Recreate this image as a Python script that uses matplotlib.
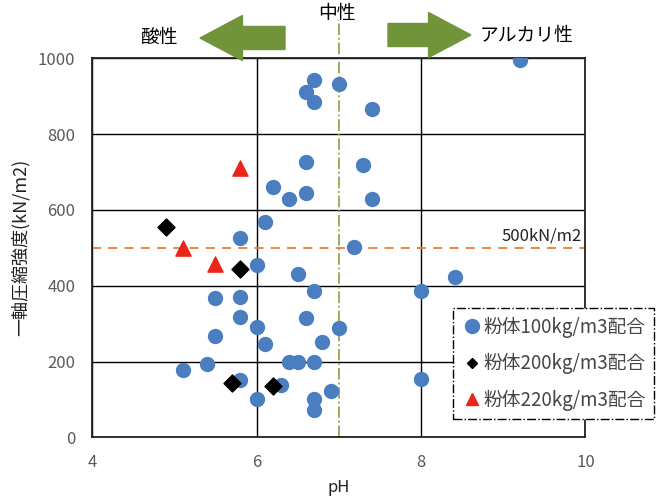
import matplotlib
matplotlib.use("Agg")
from matplotlib import pyplot as plt
from matplotlib.patches import FancyArrow
from matplotlib.lines import Line2D

plt.rcParams['font.family'] = ['Noto Sans CJK JP', 'DejaVu Sans']

# powder 100 kg/m3 mix
ph_100 = [6.70, 6.60, 6.70, 7.00, 6.60, 6.20, 6.40, 6.60, 6.10, 5.80,
          7.41, 7.30, 7.41, 9.21, 6.00, 6.50, 6.70, 5.50, 5.80, 5.80,
          6.60, 6.00, 7.00, 5.50, 6.10, 6.80, 5.10, 5.40, 6.40, 6.50,
          6.70, 5.80, 6.30, 6.90, 6.00, 6.70, 6.70, 7.19, 8.41, 8.00,
          8.00]
str_100 = [943, 912, 884, 932, 726, 661, 630, 645, 567, 527,
           865, 718, 630, 995, 455, 432, 387, 368, 371, 318,
           314, 290, 288, 268, 246, 252, 178, 194, 198, 198,
           198, 151, 138, 123, 100, 101, 72, 503, 423, 387,
           154]

# powder 200 kg/m3 mix
ph_200 = [4.90, 5.80, 5.70, 6.20]
str_200 = [554, 445, 144, 136]

# powder 220 kg/m3 mix
ph_220 = [5.80, 5.10, 5.50]
str_220 = [710, 500, 456]

labels = ['粉体100kg/m3配合', '粉体200kg/m3配合', '粉体220kg/m3配合']

fig = plt.figure(figsize=(6.63, 5), dpi=100)
ax = fig.add_axes([0.139, 0.1254, 0.744, 0.758])

ax.set_xlim(4, 10)
ax.set_ylim(0, 1000)
ax.set_xticks([4, 6, 8, 10])
ax.set_yticks(range(0, 1001, 200))
ax.grid(True, color='black', linewidth=1)
ax.set_axisbelow(True)
ax.tick_params(length=0, labelsize=12, labelcolor='#595959', pad=12)
for s in ax.spines.values():
    s.set_color('#222222')
    s.set_linewidth(1.3)

ax.scatter(ph_100, str_100, s=100, color='#4A7EC1', zorder=3)
ax.scatter(ph_200, str_200, s=75, marker='D', color='black', zorder=4)
ax.scatter(ph_220, str_220, s=120, marker='^', color='#E8261C', zorder=4)

# 500 kN/m2 reference line
ax.axhline(500, color='#ED7D31', linestyle=(0, (5, 4)), linewidth=1.3, zorder=2)
ax.text(9.95, 510, '500kN/m2', ha='right', va='bottom', fontsize=12, color='#222222')

# neutral line at pH 7, running above the plot
ax.plot([7, 7], [0, 1100], color='#8FA94F', linestyle='-.', linewidth=1.3,
        clip_on=False, zorder=2)

ax.set_xlabel('pH', fontsize=12, color='#222222', labelpad=6)
ax.set_ylabel('一軸圧縮強度(kN/m2)', fontsize=13, color='#222222', labelpad=6)

# arrows and labels above the plot
arrow_color = '#71933A'
fig.patches.append(FancyArrow(285 / 663, 1 - 38 / 500, -85 / 663, 0, width=0.046,
                              head_width=0.09, head_length=0.064,
                              length_includes_head=True, color=arrow_color,
                              transform=fig.transFigure, figure=fig))
fig.patches.append(FancyArrow(388 / 663, 1 - 35 / 500, 83 / 663, 0, width=0.046,
                              head_width=0.09, head_length=0.064,
                              length_includes_head=True, color=arrow_color,
                              transform=fig.transFigure, figure=fig))
fig.text(160 / 663, 1 - 37 / 500, '酸性', ha='center', va='center', fontsize=13.5)
fig.text(337 / 663, 1 - 14 / 500, '中性', ha='center', va='center', fontsize=13.5)
fig.text(527 / 663, 1 - 35 / 500, 'アルカリ性', ha='center', va='center', fontsize=13.5)

handles = [
    Line2D([], [], marker='o', linestyle='none', color='#4A7EC1', markersize=10),
    Line2D([], [], marker='D', linestyle='none', color='black', markersize=5.5),
    Line2D([], [], marker='^', linestyle='none', color='#E8261C', markersize=9),
]
leg = fig.legend(handles, labels, loc='upper left', bbox_to_anchor=(453 / 663, 1 - 308 / 500),
                 fontsize=13.5, frameon=True, fancybox=False, handletextpad=0.05,
                 handlelength=1.1, labelspacing=0.82, borderpad=0.45,
                 borderaxespad=0, labelcolor='#444444')
frame = leg.get_frame()
frame.set_edgecolor('black')
frame.set_linestyle('-.')
frame.set_linewidth(1.0)
frame.set_facecolor('white')
frame.set_alpha(1)

fig.savefig('out.png', dpi=100)
